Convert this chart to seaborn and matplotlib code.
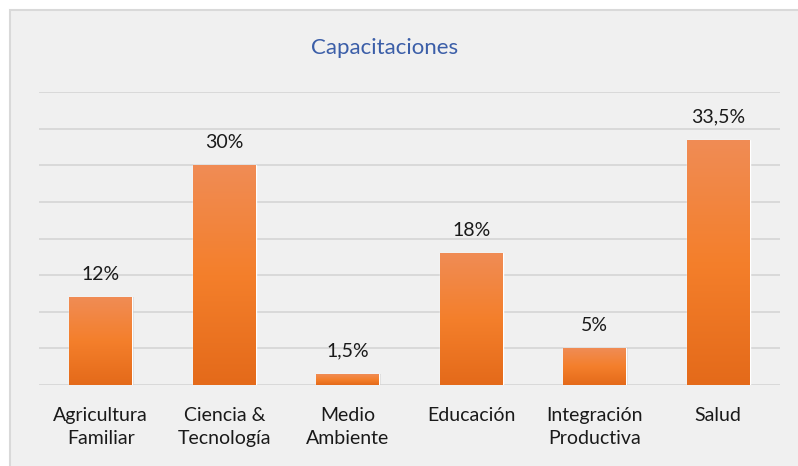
import numpy as np
import pandas as pd
import seaborn as sns
import matplotlib.pyplot as plt
from matplotlib.patches import Rectangle

categorias = ["Agricultura\nFamiliar", "Ciencia &\nTecnología", "Medio\nAmbiente",
              "Educación", "Integración\nProductiva", "Salud"]
valores = [12, 30, 1.5, 18, 5, 33.5]
etiquetas = ["12%", "30%", "1,5%", "18%", "5%", "33,5%"]

sns.set_theme(style="white")
plt.rcParams['font.family'] = ['Lato', 'DejaVu Sans']

fig = plt.figure(figsize=(7.98, 4.66), dpi=100)
fig.patch.set_facecolor("white")
# fondo y borde del grafico (sigue fuera de la imagen a la derecha y abajo)
fig.patches.append(Rectangle((10 / 798, -0.05), 1.0, 1.05 - 10 / 466, transform=fig.transFigure,
                             facecolor="#f0f0f0", edgecolor="#d9d9d9", linewidth=1.5, zorder=-5))

ax = fig.add_axes([39 / 798, 81 / 466, 741 / 798, 293 / 466])
ax.set_facecolor("none")

df = pd.DataFrame({"cat": categorias, "val": valores})
bp = sns.barplot(data=df, x="cat", y="val", color="#f47f2b", width=0.51, ax=ax, zorder=3)

ax.set_ylim(0, 40)
ax.set_yticks(np.arange(0, 41, 5))
ax.yaxis.grid(True, color="#d9d9d9", linewidth=1.4, zorder=0)
ax.set_axisbelow(True)
ax.tick_params(axis="y", left=False, labelleft=False)
ax.tick_params(axis="x", bottom=False, labelsize=14, colors="#1a1a1a", pad=9.5)
ax.set_xticks(range(len(categorias)), categorias, linespacing=1.45)
for s in ax.spines.values():
    s.set_visible(False)
ax.set(xlabel="", ylabel="")

# degradado de las barras
cmap = plt.matplotlib.colors.LinearSegmentedColormap.from_list(
    "naranja", ["#e46a1a", "#f47f2b", "#f08c55"])
grad = np.linspace(0, 1, 256).reshape(-1, 1)
for p in bp.patches:
    x0, y0 = p.get_x(), p.get_y()
    w, h = p.get_width(), p.get_height()
    # sombra ligera
    ax.add_patch(Rectangle((x0 + 0.012, y0), w, h, facecolor="#b0b0b0", alpha=0.35,
                           edgecolor="none", zorder=2))
    im = ax.imshow(grad, extent=(x0, x0 + w, y0, y0 + h), origin="lower", cmap=cmap,
                   aspect="auto", zorder=3.5)
    im.set_clip_path(p)

ax.set_xlim(-0.5, len(categorias) - 0.5)
ax.set_ylim(0, 40)

for i, (v, t) in enumerate(zip(valores, etiquetas)):
    ax.text(i, v + 3.1, t, ha="center", va="center", fontsize=14, color="#1a1a1a")

fig.text(385 / 798, 1 - 48 / 466, "Capacitaciones", ha="center", va="center",
         fontsize=16, color="#3b5ea8")

plt.savefig("out.png", dpi=100)
